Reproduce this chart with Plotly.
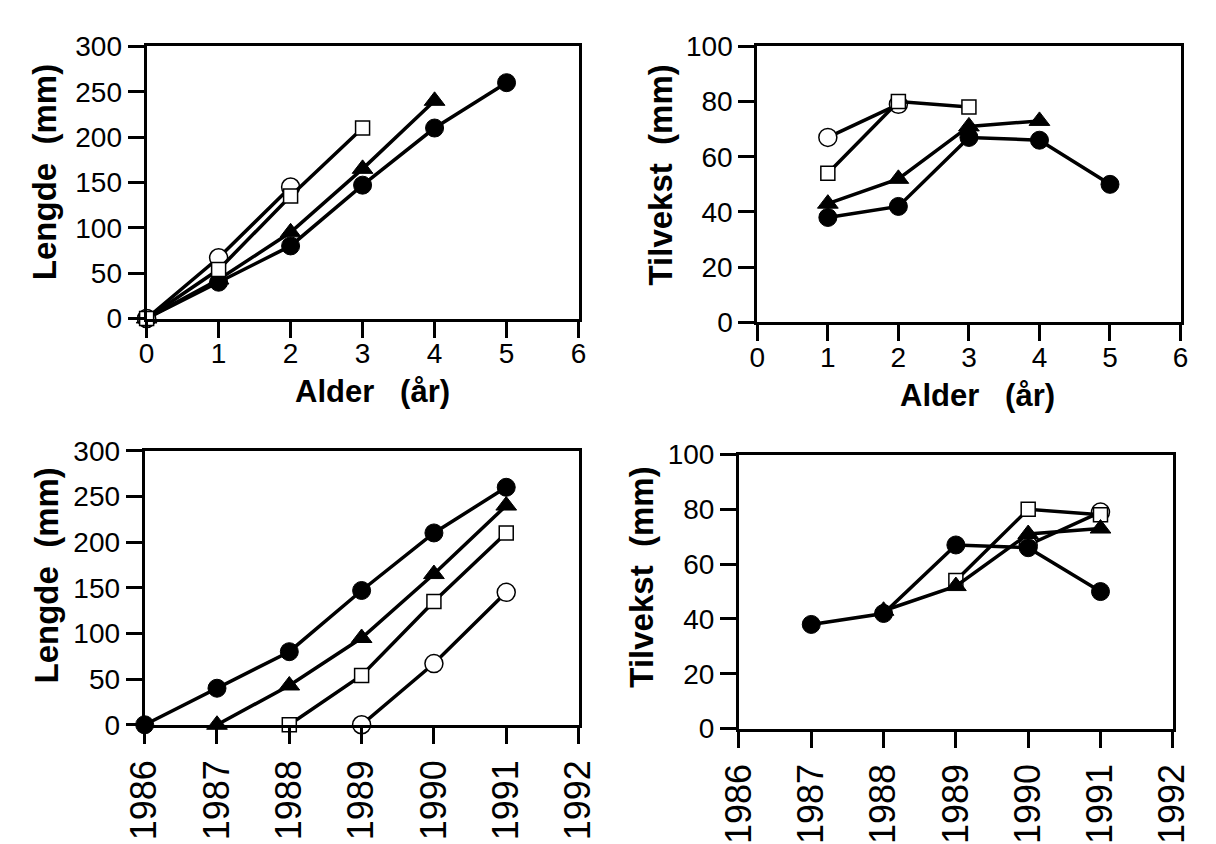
import plotly.graph_objects as go

# ---------------- data ----------------
age_len = [0, 1, 2, 3, 4, 5]
len_fill_circle = [0, 40, 80, 147, 210, 260]
len_triangle = [0, 43, 95, 165, 240]
len_square = [0, 54, 135, 210]
len_open_circle = [0, 67, 145]

age_inc = [1, 2, 3, 4, 5]
inc_fill_circle = [38, 42, 67, 66, 50]
inc_triangle = [43, 52, 71, 73]
inc_square = [54, 80, 78]
inc_open_circle = [67, 79]

yr_len_fill_circle = [1986, 1987, 1988, 1989, 1990, 1991]
yr_len_triangle = [1987, 1988, 1989, 1990, 1991]
yr_len_square = [1988, 1989, 1990, 1991]
yr_len_open_circle = [1989, 1990, 1991]

yr_inc_fill_circle = [1987, 1988, 1989, 1990, 1991]
yr_inc_triangle = [1988, 1989, 1990, 1991]
yr_inc_square = [1989, 1990, 1991]
yr_inc_open_circle = [1990, 1991]

age_ticks = [0, 1, 2, 3, 4, 5, 6]
year_ticks = [1986, 1987, 1988, 1989, 1990, 1991, 1992]
len_ticks = [0, 50, 100, 150, 200, 250, 300]
inc_ticks = [0, 20, 40, 60, 80, 100]

title_len = "Lengde  (mm)"
title_inc = "Tilvekst  (mm)"
title_age = "Alder   (år)"

# ---------------- layout helpers ----------------
W, H = 1216, 844
FONT = "Liberation Sans, Arial, sans-serif"


def px_x(p):
    return p / W


def px_y(p):
    return 1 - p / H


styles = {
    "fc": dict(symbol="circle", size=18, color="black", line=dict(color="black", width=1)),
    "tr": dict(symbol="triangle-up", size=18, color="black", line=dict(color="black", width=1)),
    "sq": dict(symbol="square", size=14, color="white", line=dict(color="black", width=1.5)),
    "oc": dict(symbol="circle", size=18, color="white", line=dict(color="black", width=1.5)),
}

fig = go.Figure()


def add(xs, ys, key, xa, ya):
    fig.add_trace(go.Scatter(
        x=xs, y=ys, mode="lines+markers",
        line=dict(color="black", width=3.5),
        marker=styles[key], cliponaxis=False, showlegend=False,
        xaxis=xa, yaxis=ya))


# top-left
add(age_len, len_fill_circle, "fc", "x", "y")
add(age_len[:len(len_triangle)], len_triangle, "tr", "x", "y")
add(age_len[:len(len_open_circle)], len_open_circle, "oc", "x", "y")
add(age_len[:len(len_square)], len_square, "sq", "x", "y")
# top-right
add(age_inc, inc_fill_circle, "fc", "x2", "y2")
add(age_inc[:len(inc_triangle)], inc_triangle, "tr", "x2", "y2")
add(age_inc[:len(inc_open_circle)], inc_open_circle, "oc", "x2", "y2")
add(age_inc[:len(inc_square)], inc_square, "sq", "x2", "y2")
# bottom-left
add(yr_len_fill_circle, len_fill_circle, "fc", "x3", "y3")
add(yr_len_triangle, len_triangle, "tr", "x3", "y3")
add(yr_len_square, len_square, "sq", "x3", "y3")
add(yr_len_open_circle, len_open_circle, "oc", "x3", "y3")
# bottom-right
add(yr_inc_open_circle, inc_open_circle, "oc", "x4", "y4")
add(yr_inc_square, inc_square, "sq", "x4", "y4")
add(yr_inc_triangle, inc_triangle, "tr", "x4", "y4")
add(yr_inc_fill_circle, inc_fill_circle, "fc", "x4", "y4")


def axis(domain, rng, ticks, anchor, size=28, angle=None, standoff=0):
    d = dict(domain=domain, range=rng, tickvals=ticks, ticktext=[str(t) for t in ticks],
             anchor=anchor, showgrid=False, zeroline=False, showline=True,
             linecolor="black", linewidth=3, mirror=True,
             ticks="outside", ticklen=16, tickwidth=2.5, tickcolor="black",
             ticklabelstandoff=standoff,
             tickfont=dict(family=FONT, size=size, color="black"))
    if angle is not None:
        d["tickangle"] = angle
    return d


# pixel boxes (left, right, top, bottom)
TL = (130, 577, 33, 319)
TR = (762, 1200, 33, 323)
BL = (128, 577, 458, 746)
BR = (743, 1192, 462, 750)


def dom(b):
    return [px_x(b[0]), px_x(b[1])], [px_y(b[3]), px_y(b[2])]


tlx, tly = dom(TL)
trx, try_ = dom(TR)
blx, bly = dom(BL)
brx, bry = dom(BR)

fig.update_layout(
    width=W, height=H,
    margin=dict(l=0, r=0, t=0, b=0),
    paper_bgcolor="white", plot_bgcolor="white",
    xaxis=axis(tlx, [0, 6], age_ticks, "y", standoff=-8),
    yaxis=axis(tly, [0, 300], len_ticks, "x"),
    xaxis2=axis(trx, [0, 6], age_ticks, "y2", standoff=-8),
    yaxis2=axis(try_, [0, 100], inc_ticks, "x2"),
    xaxis3=axis(blx, [1986, 1992], year_ticks, "y3", size=36, angle=-90, standoff=2),
    yaxis3=axis(bly, [0, 300], len_ticks, "x3"),
    xaxis4=axis(brx, [1986, 1992], year_ticks, "y4", size=36, angle=-90, standoff=2),
    yaxis4=axis(bry, [0, 100], inc_ticks, "x4"),
)

tfont_y = dict(family=FONT, size=33, color="black", weight="bold")
tfont_x = dict(family=FONT, size=31, color="black", weight="bold")

ann = [
    (title_len, 25, 165, -90, tfont_y),
    (title_inc, 662, 168, -90, tfont_y),
    (title_len, 26, 589, -90, tfont_y),
    (title_inc, 642, 591, -90, tfont_y),
    (title_age, 364, 396, 0, tfont_x),
    (title_age, 990, 400, 0, tfont_x),
]
for text, x, y, ang, f in ann:
    fig.add_annotation(text=text, xref="paper", yref="paper", x=px_x(x), y=px_y(y),
                       xanchor="center", yanchor="middle", textangle=ang,
                       showarrow=False, font=f)

fig.write_html("out.html")
